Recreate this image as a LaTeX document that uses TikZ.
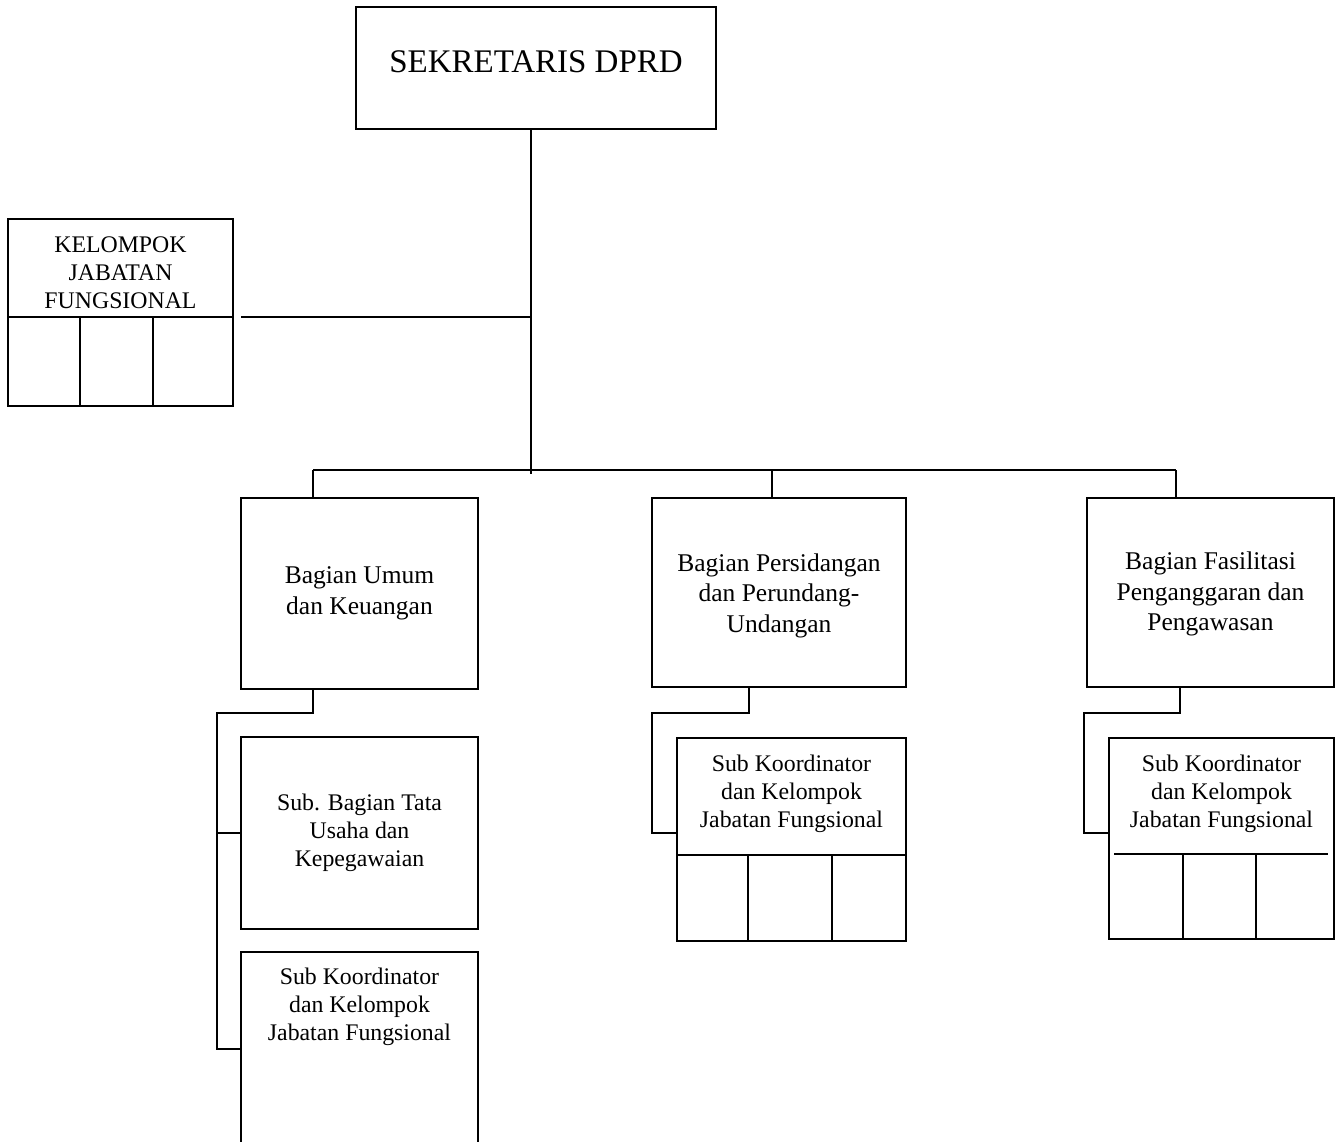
\documentclass[tikz,border=0pt]{standalone}
\usepackage{fontspec}
\setmainfont{Liberation Serif}
\begin{document}
\begin{tikzpicture}[x=1pt,y=-1pt,line width=1.8pt,
  box/.style={draw,inner sep=0pt,outer sep=0pt,align=center},
  lbl/.style={inner sep=0pt,outer sep=0pt,align=center},
  big/.style={font=\fontsize{33}{38}\selectfont},
  mid/.style={font=\fontsize{25.5}{30.5}\selectfont},
  small/.style={font=\fontsize{23.8}{27.8}\selectfont}]
\useasboundingbox (0,0) rectangle (1340,1141);
\fill[white] (0,0) rectangle (1340,1141);

% head of the office
\node[box,minimum width=360pt,minimum height=122pt] (sek) at (536,68) {};
\node[lbl,big] (sektext) at (536,62) {SEKRETARIS DPRD};

% functional group on the left
\node[box,minimum width=225pt,minimum height=187pt] (kjf) at (120.5,312.5) {};
\node[lbl,small] (kjftext) at (120.5,273) {KELOMPOK\\JABATAN\\FUNGSIONAL};
\coordinate (kjfdiv) at (8,317);
\draw (kjfdiv) -- (kjfdiv -| kjf.east);
\coordinate (kjfa) at (80,317);
\coordinate (kjfb) at (153,317);
\draw (kjfa) -- (kjfa |- kjf.south);
\draw (kjfb) -- (kjfb |- kjf.south);

% departments
\node[box,mid,minimum width=237pt,minimum height=191pt] (umum) at (359.5,593.5) {Bagian Umum\\dan Keuangan};
\node[box,minimum width=254pt,minimum height=189pt] (pers) at (779,592.5) {};
\node[lbl,mid] (perstext) at (779,595.5) {Bagian Persidangan\\dan Perundang-\\Undangan};
\node[box,minimum width=247pt,minimum height=189pt] (fas) at (1210.5,592.5) {};
\node[lbl,mid] (fastext) at (1210.5,594) {Bagian Fasilitasi\\Penganggaran dan\\Pengawasan};

% sections under Bagian Umum
\node[box,small,minimum width=237pt,minimum height=192pt] (tata) at (359.5,833) {Sub. Bagian Tata\\Usaha dan\\Kepegawaian};
\coordinate (koorLtl) at (241,952);
\coordinate (koorLtr) at (478,952);
\draw (241,1160) -- (koorLtl) -- (koorLtr) -- (478,1160);
\node[lbl,small] (koorL) at (359.5,1007) {Sub Koordinator\\dan Kelompok\\Jabatan Fungsional};

% group under Bagian Persidangan
\node[box,minimum width=229pt,minimum height=203pt] (koorM) at (791.5,839.5) {};
\node[lbl,small] (koorMtext) at (791.5,794) {Sub Koordinator\\dan Kelompok\\Jabatan Fungsional};
\coordinate (koorMdiv) at (677,855);
\draw (koorMdiv) -- (koorMdiv -| koorM.east);
\coordinate (koorMa) at (748,855);
\coordinate (koorMb) at (832,855);
\draw (koorMa) -- (koorMa |- koorM.south);
\draw (koorMb) -- (koorMb |- koorM.south);

% group under Bagian Fasilitasi
\node[box,minimum width=225pt,minimum height=201pt] (koorR) at (1221.5,838.5) {};
\node[lbl,small] (koorRtext) at (1221.5,794) {Sub Koordinator\\dan Kelompok\\Jabatan Fungsional};
\coordinate (koorRdl) at (1114,854);
\coordinate (koorRdr) at (1328,854);
\draw (koorRdl) -- (koorRdr);
\coordinate (koorRa) at (1183,854);
\coordinate (koorRb) at (1256,854);
\draw (koorRa) -- (koorRa |- koorR.south);
\draw (koorRb) -- (koorRb |- koorR.south);

% main trunk and branches
\coordinate (hub) at (531,470);
\coordinate (stemend) at (531,474);
\coordinate (barL) at (313,470);
\coordinate (barM) at (772,470);
\coordinate (barR) at (1176,470);
\draw (sek.south -| hub) -- (stemend);
\draw (barL) -- (barR);
\draw (barL) -- (barL |- umum.north);
\draw (barM) -- (barM |- pers.north);
\draw (barR) -- (barR |- fas.north);
\coordinate (kjfend) at (241,317);
\draw (kjfend) -- (kjfend -| hub);

% link from Bagian Umum to its sections
\coordinate (dropL) at (313,713);
\coordinate (spineL) at (217,713);
\coordinate (koorLw) at (241,1049);
\draw (dropL |- umum.south) -- (dropL) -- (spineL) -- (spineL |- koorLw) -- (koorLw);
\draw (spineL |- tata.west) -- (tata.west);

% link from Bagian Persidangan to its group
\coordinate (dropM) at (749,713);
\coordinate (spineM) at (652,713);
\coordinate (koorMw) at (677,833);
\draw (dropM |- pers.south) -- (dropM) -- (spineM) -- (spineM |- koorMw) -- (koorMw);

% link from Bagian Fasilitasi to its group
\coordinate (dropR) at (1180,713);
\coordinate (spineR) at (1084,713);
\coordinate (koorRw) at (1109,833);
\draw (dropR |- fas.south) -- (dropR) -- (spineR) -- (spineR |- koorRw) -- (koorRw);
\end{tikzpicture}
\end{document}
